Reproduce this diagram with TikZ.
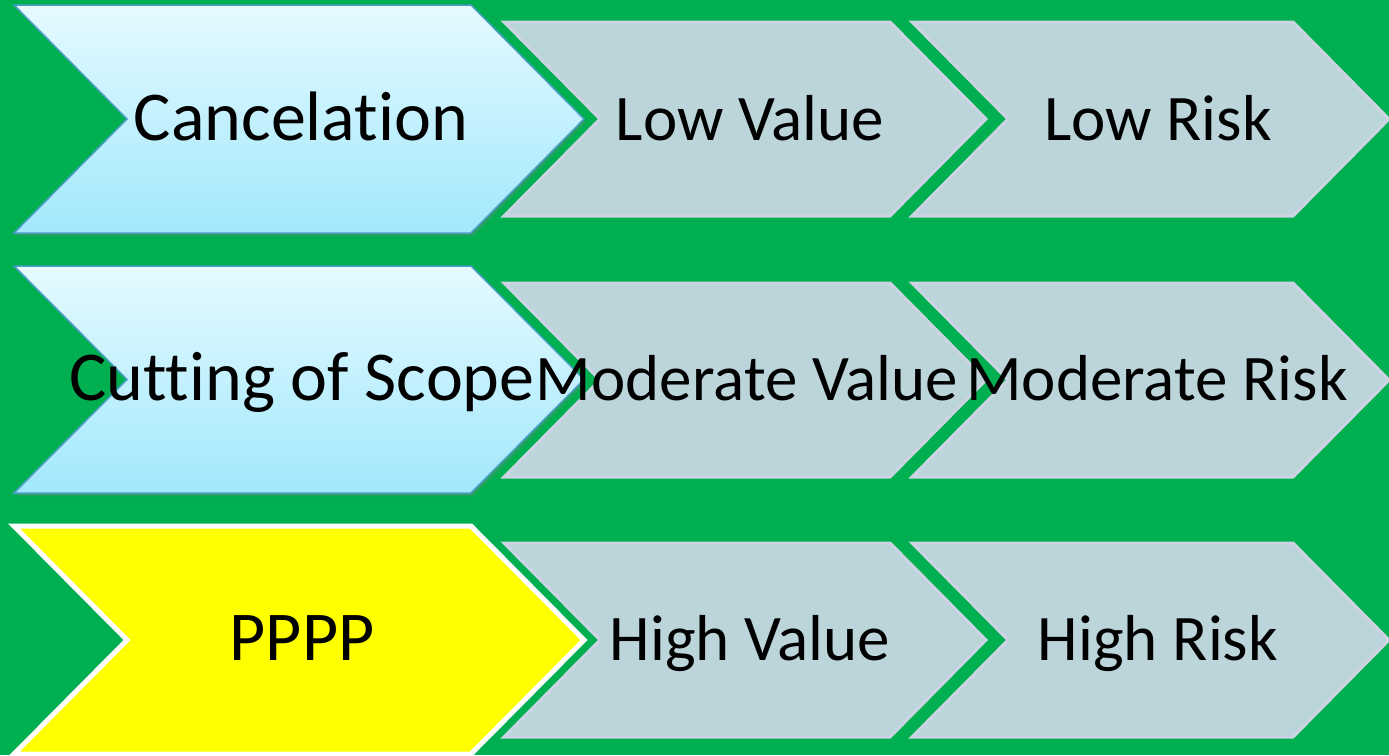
\documentclass[tikz,border=0pt]{standalone}
\usepackage{fontspec}
\setmainfont[Ligatures=NoCommon]{Carlito}
\usetikzlibrary{shadows}
\definecolor{bggreen}{HTML}{00B050}
\definecolor{greyfill}{HTML}{BCD5DB}
\definecolor{greyedge}{HTML}{CCD4E4}
\definecolor{bluetop}{HTML}{E5FAFF}
\definecolor{bluebot}{HTML}{A2E8FC}
\definecolor{blueedge}{HTML}{4A9EC6}
\definecolor{brightyellow}{HTML}{FFFF00}
\tikzset{
  bluechev/.style={top color=bluetop, bottom color=bluebot, draw=blueedge, line width=1.5pt, line join=miter,
    drop shadow={opacity=0.3, shadow xshift=2pt, shadow yshift=-3pt}},
  greychev/.style={fill=greyfill, draw=greyedge, line width=3pt, line join=miter},
  yellowchev/.style={fill=brightyellow, draw=white, line width=5pt, line join=miter},
  lbl/.style={anchor=base, inner sep=0pt, font=\fontsize{65}{65}\selectfont, text=black},
  biglbl/.style={lbl, font=\fontsize{70}{70}\selectfont}
}
\begin{document}
\begin{tikzpicture}[x=1pt,y=-1pt]
\fill[bggreen] (0,0) rectangle (1389,755);
\useasboundingbox (0,0) rectangle (1389,755);
% row 1
\path[bluechev] (14,5) -- (471,5) -- (584,119) -- (471,233) -- (14,233) -- (127,119) -- cycle;
\path[greychev] (504,22) -- (890,22) -- (986,119) -- (890,216) -- (504,216) -- (600,119) -- cycle;
\path[greychev] (912,22) -- (1293,22) -- (1389,119) -- (1293,216) -- (912,216) -- (1008,119) -- cycle;
% row 2
\path[bluechev] (14,266) -- (471,266) -- (584,379.5) -- (471,493) -- (14,493) -- (127,379.5) -- cycle;
\path[greychev] (504,283) -- (890,283) -- (986,380) -- (890,477) -- (504,477) -- (600,380) -- cycle;
\path[greychev] (912,283) -- (1293,283) -- (1389,380) -- (1293,477) -- (912,477) -- (1008,380) -- cycle;
% row 3
\path[yellowchev] (14,526) -- (471,526) -- (584,640) -- (471,754) -- (14,754) -- (127,640) -- cycle;
\path[greychev] (504,543) -- (890,543) -- (986,640) -- (890,737) -- (504,737) -- (600,640) -- cycle;
\path[greychev] (912,543) -- (1293,543) -- (1389,640) -- (1293,737) -- (912,737) -- (1008,640) -- cycle;
% labels
\node[biglbl] (t11) at (301,140) {Cancelation};
\node[lbl] (t12) at (750,140) {Low Value};
\node[lbl] (t13) at (1158,140) {Low Risk};
\node[biglbl] (t21) at (302,400) {Cutting of Scope};
\node[lbl] (t22) at (747,400) {Moderate Value};
\node[lbl] (t23) at (1157,400) {Moderate Risk};
\node[biglbl] (t31) at (302,660) {PPPP};
\node[lbl] (t32) at (750,660) {High Value};
\node[lbl] (t33) at (1158,660) {High Risk};
\end{tikzpicture}
\end{document}
